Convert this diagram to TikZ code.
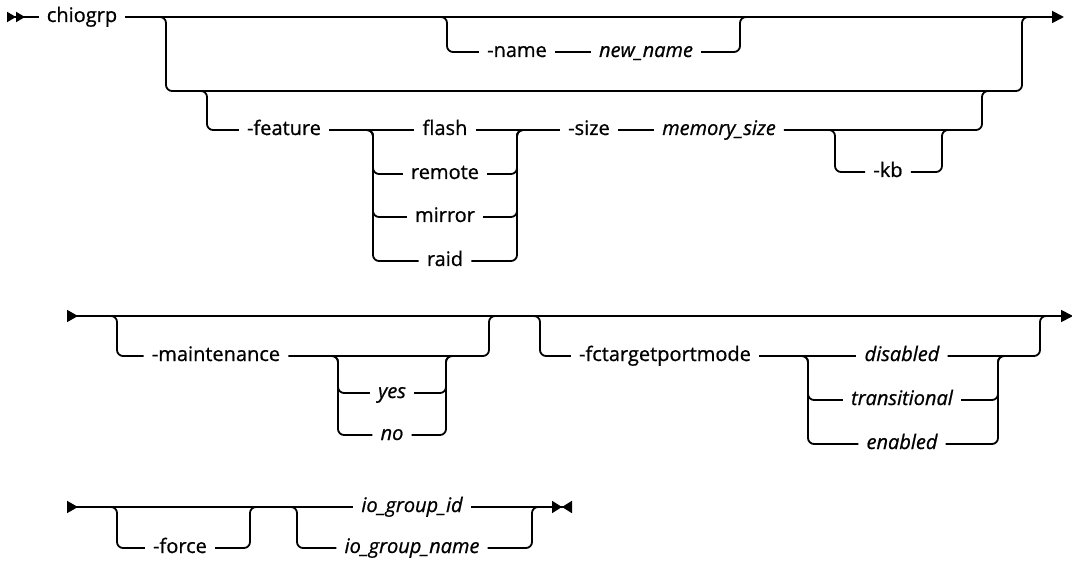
\documentclass[tikz,border=0pt]{standalone}
\usepackage{fontspec}
\setmainfont{Open Sans}[FakeBold=0.8]
\usetikzlibrary{arrows.meta}

\begin{document}
\begin{tikzpicture}[x=1pt,y=-1pt,
  rail/.style={line width=1.8pt,rounded corners=6pt},
  kw/.style={font=\fontsize{20}{24}\selectfont,inner xsep=8pt,inner ysep=0pt,text height=15pt,text depth=5pt},
  var/.style={kw,font=\fontsize{20}{24}\selectfont\itshape},
  railhead/.tip={Triangle[length=12pt,width=12pt]},
  railstart/.tip={Triangle[reversed,length=11pt,width=12pt]},
  railstarttwo/.tip={Triangle[reversed,length=9pt,width=10pt,sep=0pt]Triangle[reversed,length=9pt,width=10pt,sep=0pt]},
  railstop/.tip={Triangle[length=10pt,width=12pt,sep=0pt]Triangle[reversed,length=10pt,width=12pt,sep=0pt]}]
\useasboundingbox (0,0) rectangle (1072,564);

% first line
\coordinate (s1) at (7,17);
\coordinate (e1) at (1064,17);
\node[kw] (cmd) at (82,17) {chiogrp};
\draw[rail,{railstarttwo}-] (s1) -- (cmd);
\draw[rail,-{railhead}] (cmd) -- (e1);

\coordinate (a1) at (166,17);
\coordinate (a2) at (166,91);
\coordinate (b1) at (1022,17);
\coordinate (b2) at (1022,91);
\draw[rail] ([xshift=-10pt]a1) -- (a1) -- (a2) -- (b2) -- (b1) -- ([xshift=10pt]b1);

\coordinate (c1) at (447,17);
\coordinate (c2) at (740,17);
\node[kw] (name) at (517,52) {-name};
\node[var] (newname) at (646,52) {new\_name};
\draw[rail] ([xshift=-10pt]c1) -- (c1) |- (name);
\draw[rail] (name) -- (newname);
\draw[rail] (newname) -| (c2) -- ([xshift=10pt]c2);

\coordinate (d1) at (207,91);
\coordinate (d2) at (982,91);
\coordinate (d3) at (982,130);
\node[kw] (feature) at (284,130) {-feature};
\draw[rail] ([xshift=-10pt]d1) -- (d1) |- (feature);

\coordinate (g1) at (373,130);
\coordinate (g2) at (517,130);
\node[kw] (flash) at (445,130) {flash};
\foreach \n/\y in {remote/174,mirror/217,raid/261} {
  \node[kw] (\n) at (445,\y) {\n};
  \draw[rail] ([xshift=-10pt]g1) -- (g1) |- (\n);
  \draw[rail] (\n) -| (g2) -- ([xshift=10pt]g2);
}
\node[kw] (size) at (589,130) {-size};
\node[var] (memsize) at (719,130) {memory\_size};
\draw[rail] (feature) -- (flash);
\draw[rail] (flash) -- (size);
\draw[rail] (size) -- (memsize);
\draw[rail] (memsize) -- (d3) -- (d2) -- ([xshift=10pt]d2);

\coordinate (k1) at (835,130);
\coordinate (k2) at (942,130);
\node[kw] (kb) at (888,172) {-kb};
\draw[rail] ([xshift=-10pt]k1) -- (k1) |- (kb);
\draw[rail] (kb) -| (k2) -- ([xshift=10pt]k2);

% second line
\coordinate (s2) at (67,316);
\coordinate (e2) at (1073,316);
\draw[rail,{railstart}-{railhead}] (s2) -- (e2);

\coordinate (m1) at (117,316);
\coordinate (m2) at (489,316);
\node[kw] (maint) at (216,356) {-maintenance};
\draw[rail] ([xshift=-10pt]m1) -- (m1) |- (maint);
\draw[rail] (maint) -| (m2) -- ([xshift=10pt]m2);

\coordinate (y1) at (338,356);
\coordinate (y2) at (446,356);
\foreach \n/\y in {yes/393,no/435} {
  \node[var] (\n) at (392,\y) {\n};
  \draw[rail] ([xshift=-10pt]y1) -- (y1) |- (\n);
  \draw[rail] (\n) -| (y2) -- ([xshift=10pt]y2);
}

\coordinate (f1) at (540,316);
\coordinate (f2) at (1040,316);
\node[kw] (fcmode) at (665,356) {-fctargetportmode};
\node[var] (disabled) at (902,356) {disabled};
\draw[rail] ([xshift=-10pt]f1) -- (f1) |- (fcmode);
\draw[rail] (fcmode) -- (disabled);
\draw[rail] (disabled) -| (f2) -- ([xshift=10pt]f2);

\coordinate (v1) at (808,356);
\coordinate (v2) at (998,356);
\foreach \n/\y in {transitional/400,enabled/444} {
  \node[var] (\n) at (902,\y) {\n};
  \draw[rail] ([xshift=-10pt]v1) -- (v1) |- (\n);
  \draw[rail] (\n) -| (v2) -- ([xshift=10pt]v2);
}

% third line
\coordinate (s3) at (67,507);
\coordinate (e3) at (572,507);
\node[var] (ioid) at (412,507) {io\_group\_id};
\draw[rail,{railstart}-] (s3) -- (ioid);
\draw[rail,-{railstop}] (ioid) -- (e3);

\coordinate (h1) at (117,507);
\coordinate (h2) at (250,507);
\node[kw] (force) at (180,548) {-force};
\draw[rail] ([xshift=-10pt]h1) -- (h1) |- (force);
\draw[rail] (force) -| (h2) -- ([xshift=10pt]h2);

\coordinate (i1) at (297,507);
\coordinate (i2) at (532,507);
\node[var] (ioname) at (412,548) {io\_group\_name};
\draw[rail] ([xshift=-10pt]i1) -- (i1) |- (ioname);
\draw[rail] (ioname) -| (i2) -- ([xshift=10pt]i2);
\end{tikzpicture}
\end{document}
